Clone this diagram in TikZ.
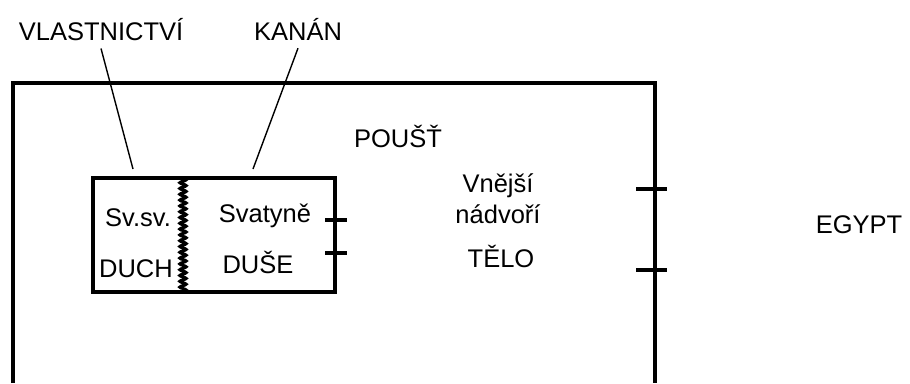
\documentclass[tikz,border=0pt]{standalone}
\usepackage{fontspec}
\setmainfont{Liberation Sans}
\usetikzlibrary{decorations.pathmorphing}
\tikzset{
  txt/.style={inner sep=0pt, anchor=base, font=\fontsize{25.5}{29}\selectfont},
  wall/.style={line width=3.5pt},
  gate/.style={line width=4.5pt},
  leader/.style={line width=1.4pt}
}
\begin{document}
\begin{tikzpicture}[x=1pt,y=-1pt]
  \useasboundingbox (0,0) rectangle (910,383);
  % frame (desert)
  \draw[wall] (13,383) -- (13,83) -- (655,83) -- (655,383);
  \foreach \y in {189,270} {
    \draw[gate] (636,\y) -- (667,\y);
  }
  % inner box
  \draw[wall] (93,178) rectangle (335,292);
  \draw[line width=3pt, decorate, decoration={snake, segment length=5.8pt, amplitude=3.2pt}] (183,178) -- (183,292);
  \foreach \y in {220,253} {
    \draw[gate] (325,\y) -- (347,\y);
  }
  % labels
  \node[txt] (vl) at (101,40) {VLASTNICTVÍ};
  \node[txt] (kn) at (298,40) {KANÁN};
  \node[txt] (pu) at (398,147) {POUŠŤ};
  \node[txt] (vn) at (498,192) {Vnější};
  \node[txt] (nd) at (498,223) {nádvoří};
  \node[txt] (tl) at (501,267) {TĚLO};
  \node[txt] (eg) at (859,233) {EGYPT};
  \node[txt] (ss) at (138,226) {Sv.sv.};
  \node[txt] (du) at (136,277) {DUCH};
  \node[txt] (sv) at (265,222) {Svatyně};
  \node[txt] (ds) at (258,273) {DUŠE};
  \coordinate (vlend) at (133,169);
  \coordinate (knend) at (253,169);
  \draw[leader] ([yshift=-8pt]vl.south) -- (vlend);
  \draw[leader] ([yshift=-8pt]kn.south) -- (knend);
\end{tikzpicture}
\end{document}
